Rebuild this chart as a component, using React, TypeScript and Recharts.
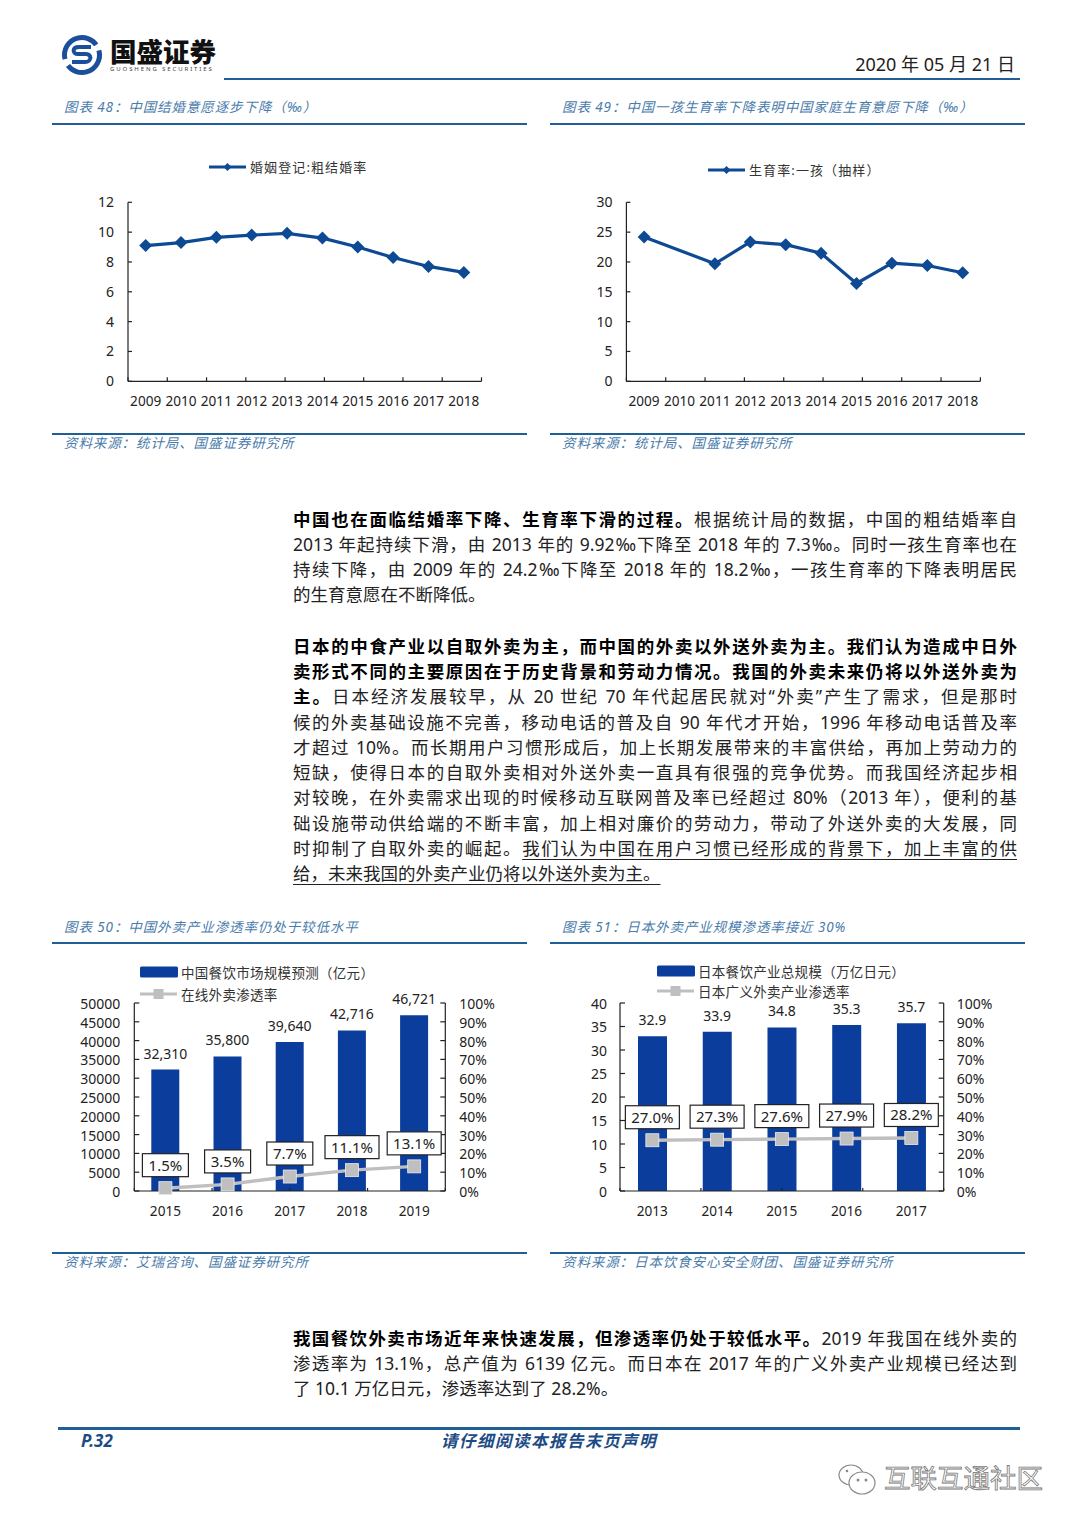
import React from "react";
import { LineChart, ComposedChart, Line, Bar, XAxis, YAxis, Legend, LabelList } from "recharts";

const FONT = '"Noto Sans","Noto Sans CJK SC",sans-serif';
const BLUE_LINE = "#0E4A94";
const BLUE_BAR = "#0B3D9C";
const GREY = "#BFBFBF";
const RULE = "#1F5F96";
const TITLE = "#4A7CAB";

const lineYears = ["2009", "2010", "2011", "2012", "2013", "2014", "2015", "2016", "2017", "2018"];
const marriageRate = [9.1, 9.3, 9.65, 9.8, 9.92, 9.6, 9.0, 8.3, 7.7, 7.3];
const firstChildRate = [24.2, null, 19.7, 23.35, 22.9, 21.45, 16.4, 19.8, 19.4, 18.2];
const marriageTicks = [0, 2, 4, 6, 8, 10, 12];
const birthTicks = [0, 5, 10, 15, 20, 25, 30];

const cnYears = ["2015", "2016", "2017", "2018", "2019"];
const cnMarket = [32310, 35800, 39640, 42716, 46721];
const cnRate = [0.015, 0.035, 0.077, 0.111, 0.131];
const cnTicks = [0, 5000, 10000, 15000, 20000, 25000, 30000, 35000, 40000, 45000, 50000];

const jpYears = ["2013", "2014", "2015", "2016", "2017"];
const jpMarket = [32.9, 33.9, 34.8, 35.3, 35.7];
const jpRate = [0.27, 0.273, 0.276, 0.279, 0.282];
const jpTicks = [0, 5, 10, 15, 20, 25, 30, 35, 40];
const pctTicks = [0, 0.1, 0.2, 0.3, 0.4, 0.5, 0.6, 0.7, 0.8, 0.9, 1];

const toRows = (cats: string[], a: (number | null)[], b?: number[]) =>
  cats.map((c, i) => ({ c, a: a[i], b: b ? b[i] : undefined }));

// full-width punctuation
const par = (s: string) => s.replace(/\(/g, "\uFF08").replace(/\)/g, "\uFF09");
const fw = (s: string) => par(s).replace(/,/g, "\uFF0C").replace(/:/g, "\uFF1A");

type Seg = { t: string; k?: "b" | "u" };
const para1: Seg[][] = [
  [{ t: "中国也在面临结婚率下降、生育率下滑的过程。", k: "b" }, { t: "根据统计局的数据,中国的粗结婚率自" }],
  [{ t: "2013 年起持续下滑,由 2013 年的 9.92‰下降至 2018 年的 7.3‰。同时一孩生育率也在" }],
  [{ t: "持续下降,由 2009 年的 24.2‰下降至 2018 年的 18.2‰,一孩生育率的下降表明居民" }],
  [{ t: "的生育意愿在不断降低。" }],
];
const para1Y = [519, 544, 569, 594];
const para2: Seg[][] = [
  [{ t: "日本的中食产业以自取外卖为主,而中国的外卖以外送外卖为主。我们认为造成中日外", k: "b" }],
  [{ t: "卖形式不同的主要原因在于历史背景和劳动力情况。我国的外卖未来仍将以外送外卖为", k: "b" }],
  [{ t: "主。", k: "b" }, { t: "日本经济发展较早,从 20 世纪 70 年代起居民就对“外卖”产生了需求,但是那时" }],
  [{ t: "候的外卖基础设施不完善,移动电话的普及自 90 年代才开始,1996 年移动电话普及率" }],
  [{ t: "才超过 10%。而长期用户习惯形成后,加上长期发展带来的丰富供给,再加上劳动力的" }],
  [{ t: "短缺,使得日本的自取外卖相对外送外卖一直具有很强的竞争优势。而我国经济起步相" }],
  [{ t: "对较晚,在外卖需求出现的时候移动互联网普及率已经超过 80%(2013 年),便利的基" }],
  [{ t: "础设施带动供给端的不断丰富,加上相对廉价的劳动力,带动了外送外卖的大发展,同" }],
  [{ t: "时抑制了自取外卖的崛起。" }, { t: "我们认为中国在用户习惯已经形成的背景下,加上丰富的供", k: "u" }],
  [{ t: "给,未来我国的外卖产业仍将以外送外卖为主。", k: "u" }],
];
const para2Y = [646, 671, 696, 722, 747, 772, 797, 823, 848, 873];
const para3: Seg[][] = [
  [{ t: "我国餐饮外卖市场近年来快速发展,但渗透率仍处于较低水平。", k: "b" }, { t: "2019 年我国在线外卖的" }],
  [{ t: "渗透率为 13.1%,总产值为 6139 亿元。而日本在 2017 年的广义外卖产业规模已经达到" }],
  [{ t: "了 10.1 万亿日元,渗透率达到了 28.2%。" }],
];
const para3Y = [1338, 1363, 1388];

function Paragraph({ lines, ys }: { lines: Seg[][]; ys: number[] }) {
  return (
    <>
      {lines.map((segs, i) => (
        <div
          key={i}
          style={{
            position: "absolute", left: 293, top: ys[i] - 13, width: 724, height: 26, lineHeight: "26px",
            fontSize: 17.5, color: "#222", whiteSpace: "nowrap",
            textAlign: i === lines.length - 1 ? "left" : "justify",
            textAlignLast: i === lines.length - 1 ? "left" : "justify",
          }}
        >
          {segs.map((s, j) => (
            <span key={j} style={{ fontWeight: s.k === "b" ? 700 : 400, color: s.k === "b" ? "#000" : "#222", textDecoration: s.k === "u" ? "underline" : "none", textUnderlineOffset: 4 }}>{fw(s.t)}</span>
          ))}
        </div>
      ))}
    </>
  );
}

const Hr = ({ x, y, w, h = 2 }: { x: number; y: number; w: number; h?: number }) => (
  <div style={{ position: "absolute", left: x, top: y - h / 2, width: w, height: h, background: RULE }} />
);
const Cap = ({ x, y, text, size = 13.5, sp = 0.9 }: { x: number; y: number; text: string; size?: number; sp?: number }) => (
  <div style={{ position: "absolute", left: x, top: y - 10, height: 20, lineHeight: "20px", fontSize: size, letterSpacing: sp, fontStyle: "italic", color: TITLE, whiteSpace: "nowrap" }}>{fw(text)}</div>
);

const NoTickText = () => <g />;
const Diamond = (r: number) => (p: any) => {
  const { cx, cy, index } = p;
  if (cx == null || cy == null) return <g key={index} />;
  return <polygon key={index} points={`${cx},${cy - r} ${cx + r},${cy} ${cx},${cy + r} ${cx - r},${cy}`} fill={BLUE_LINE} />;
};
const SquareDot = (p: any) => {
  const { cx, cy, index } = p;
  if (cx == null || cy == null) return <g key={index} />;
  return <rect key={index} x={cx - 6.5} y={cy - 6.5} width={13} height={13} fill={GREY} stroke="#E8EEF6" strokeWidth={0.8} />;
};
const BoxLabel = (p: any) => {
  const x = p.x ?? p.viewBox?.x;
  const y = p.y ?? p.viewBox?.y;
  const s = (Number(p.value) * 100).toFixed(1) + "%";
  const wide = s.length > 4;
  const w = wide ? 54 : 46;
  return (
    <g>
      <rect x={x - w / 2} y={y - 34.5} width={w} height={23} fill="#fff" stroke="#222" strokeWidth={1.2} />
      <text x={x} y={y - 17.5} textAnchor="middle" fontSize={15} fill="#222" fontFamily={FONT}>{s}</text>
    </g>
  );
};

const LineLegend = (p: any) => (
  <div style={{ display: "flex", alignItems: "center", fontSize: 13, letterSpacing: 1.1, color: "#333", fontFamily: FONT, whiteSpace: "nowrap" }}>
    <svg width={41} height={12} style={{ flex: "none" }}>
      <line x1={0} x2={37} y1={6} y2={6} stroke={BLUE_LINE} strokeWidth={3.2} />
      <polygon points="18.5,2 22.5,6 18.5,10 14.5,6" fill={BLUE_LINE} />
    </svg>
    {p.payload?.[0]?.value}
  </div>
);
const ComboLegend = (gap: number) => (p: any) => (
  <div style={{ fontSize: 13.5, letterSpacing: 0.3, color: "#333", fontFamily: FONT, whiteSpace: "nowrap" }}>
    {(p.payload || []).map((e: any, i: number) => (
      <div key={i} style={{ display: "flex", alignItems: "center", height: 20, marginBottom: i === 0 ? gap : 0 }}>
        <svg width={41} height={14} style={{ flex: "none" }}>
          {i === 0 ? (
            <rect x={0} y={1.5} width={38} height={11} rx={1.5} fill={BLUE_BAR} />
          ) : (
            <>
              <line x1={0} x2={37} y1={7} y2={7} stroke={GREY} strokeWidth={3} />
              <rect x={13.5} y={2} width={10} height={10} fill={GREY} />
            </>
          )}
        </svg>
        {e.value}
      </div>
    ))}
  </div>
);

const tickStyle = { fontSize: 14, fill: "#222", fontFamily: FONT };
const axisLine = { stroke: "#222", strokeWidth: 1.2 };

function RateChart(props: { left: number; ml: number; mr: number; w: number; data: any[]; ticks: number[]; max: number; name: string; lLeft: number; lTop: number }) {
  const { left, ml, mr, w, data, ticks, max, name, lLeft, lTop } = props;
  return (
    <div style={{ position: "absolute", left, top: 130 }}>
      <LineChart width={w} height={300} data={data} margin={{ top: 72.3, right: mr, bottom: 18.7, left: ml }}>
        <XAxis xAxisId="aEdges" type="number" domain={[0, 10]} ticks={[0, 1, 2, 3, 4, 5, 6, 7, 8, 9, 10]} tick={NoTickText} tickSize={-4} height={1} axisLine={axisLine} tickLine={axisLine} interval={0} />
        <XAxis xAxisId="cat" dataKey="c" scale="band" height={29} tickLine={false} axisLine={false} tick={{ ...tickStyle, fontSize: 13.6 }} tickMargin={8} interval={0} />
        <YAxis width={40} domain={[0, max]} ticks={ticks} tick={tickStyle} tickSize={-4} tickMargin={18} axisLine={axisLine} tickLine={axisLine} interval={0} />
        <Legend layout="vertical" align="center" verticalAlign="middle" itemSorter={null} wrapperStyle={{ left: lLeft, top: lTop, width: 300 }} content={LineLegend} />
        <Line xAxisId="cat" dataKey="a" name={par(name)} stroke={BLUE_LINE} strokeWidth={3.2} connectNulls dot={Diamond(6.5)} activeDot={false} isAnimationActive={false} />
      </LineChart>
    </div>
  );
}

function ComboChart(props: { left: number; ml: number; mr: number; w: number; data: any[]; ticks: number[]; max: number; barW: number; barName: string; lineName: string; fmt: (v: any) => string; lLeft: number; lTop: number; gap: number; tickM: number }) {
  const { left, ml, mr, w, data, ticks, max, barW, barName, lineName, fmt, lLeft, lTop, gap, tickM } = props;
  return (
    <div style={{ position: "absolute", left, top: 950 }}>
      <ComposedChart width={w} height={300} data={data} margin={{ top: 53, right: mr, bottom: 29, left: ml }}>
        <XAxis xAxisId="aEdges" type="number" domain={[0, 5]} ticks={[0, 1, 2, 3, 4, 5]} tick={NoTickText} tickSize={-3} height={1} axisLine={axisLine} tickLine={axisLine} interval={0} />
        <XAxis xAxisId="cat" dataKey="c" height={29} tickLine={false} axisLine={false} tick={{ ...tickStyle, fontSize: 13.6 }} tickMargin={8} interval={0} />
        <YAxis yAxisId="l" width={40} domain={[0, max]} ticks={ticks} tick={{ ...tickStyle, dy: 1 }} tickSize={-5} tickMargin={tickM} axisLine={axisLine} tickLine={axisLine} interval={0} />
        <YAxis yAxisId="r" orientation="right" width={40} domain={[0, 1]} ticks={pctTicks} tickFormatter={(v: number) => Math.round(v * 100) + "%"} tick={{ ...tickStyle, dy: 1 }} tickSize={-5} tickMargin={tickM} axisLine={axisLine} tickLine={axisLine} interval={0} />
        <Legend layout="vertical" align="center" verticalAlign="middle" itemSorter={null} wrapperStyle={{ left: lLeft, top: lTop, width: 330 }} content={ComboLegend(gap)} />
        <Bar xAxisId="cat" yAxisId="l" dataKey="a" name={par(barName)} fill={BLUE_BAR} barSize={barW} isAnimationActive={false}>
          <LabelList dataKey="a" position="top" offset={11} formatter={fmt} style={{ fontSize: 14, fill: "#222", fontFamily: FONT }} />
        </Bar>
        <Line xAxisId="cat" yAxisId="r" dataKey="b" name={lineName} stroke={GREY} strokeWidth={3.4} dot={SquareDot} activeDot={false} isAnimationActive={false}>
          <LabelList dataKey="b" content={BoxLabel} />
        </Line>
      </ComposedChart>
    </div>
  );
}

function Logo() {
  return (
    <svg width={44} height={44} viewBox="0 0 44 44" style={{ position: "absolute", left: 60, top: 33 }}>
      <circle cx={22} cy={22} r={17.5} fill="none" stroke="#1B4F9C" strokeWidth={5} strokeDasharray="48 7 48 7" transform="rotate(-15 22 22)" />
      <path d="M31 14 L19 14 C12 14 12 21 18 21 L26 21 C32 21 32 29 25 29 L12 29" fill="none" stroke="#1B4F9C" strokeWidth={4} />
    </svg>
  );
}

export default function App() {
  return (
    <div style={{ position: "absolute", left: 0, top: 0, width: 1080, height: 1526, background: "#fff", overflow: "hidden", fontFamily: FONT }} lang="zh-CN">
      <Logo />
      <div style={{ position: "absolute", left: 110, top: 39, fontSize: 26.5, lineHeight: "26px", fontWeight: 900, color: "#111", whiteSpace: "nowrap" }}>国盛证券</div>
      <div style={{ position: "absolute", left: 110, top: 66, fontSize: 6, lineHeight: "7px", letterSpacing: 1.9, color: "#444", whiteSpace: "nowrap" }}>GUOSHENG SECURITIES</div>
      <div style={{ position: "absolute", right: 65, top: 51, fontSize: 18, lineHeight: "26px", color: "#222", whiteSpace: "nowrap" }}>2020 年 05 月 21 日</div>
      <Hr x={224} y={79} w={796} h={2.6} />

      <Cap x={64} y={107} text="图表 48:中国结婚意愿逐步下降(‰)" />
      <Hr x={52} y={124} w={475} />
      <Cap x={562} y={107} text="图表 49:中国一孩生育率下降表明中国家庭生育意愿下降(‰)" />
      <Hr x={550} y={124} w={475} />
      <RateChart left={52} ml={36} mr={20} w={449.5} data={toRows(lineYears, marriageRate)} ticks={marriageTicks} max={12} name="婚姻登记:粗结婚率" lLeft={157} lTop={27} />
      <RateChart left={550} ml={36.4} mr={20} w={450.4} data={toRows(lineYears, firstChildRate)} ticks={birthTicks} max={30} name="生育率:一孩(抽样)" lLeft={158} lTop={30} />
      <Hr x={52} y={434} w={475} />
      <Cap x={64} y={443} text="资料来源:统计局、国盛证券研究所" />
      <Hr x={550} y={434} w={475} />
      <Cap x={562} y={443} text="资料来源:统计局、国盛证券研究所" />

      <Paragraph lines={para1} ys={para1Y} />
      <Paragraph lines={para2} ys={para2Y} />

      <Cap x={64} y={927} text="图表 50:中国外卖产业渗透率仍处于较低水平" />
      <Hr x={52} y={943} w={475} />
      <Cap x={562} y={927} text="图表 51:日本外卖产业规模渗透率接近 30%" />
      <Hr x={550} y={943} w={475} />
      <ComboChart left={52} ml={42.3} mr={15} w={448.3} data={toRows(cnYears, cnMarket, cnRate)} ticks={cnTicks} max={50000} barW={28} barName="中国餐饮市场规模预测(亿元)" lineName="在线外卖渗透率" fmt={(v: any) => Number(v).toLocaleString("en-US")} lLeft={88} lTop={12} gap={2} tickM={19} />
      <ComboChart left={550} ml={30} mr={15} w={448.7} data={toRows(jpYears, jpMarket, jpRate)} ticks={jpTicks} max={40} barW={29} barName="日本餐饮产业总规模(万亿日元)" lineName="日本广义外卖产业渗透率" fmt={(v: any) => Number(v).toFixed(1)} lLeft={107} lTop={10.5} gap={0} tickM={18} />
      <Hr x={52} y={1253} w={475} />
      <Cap x={64} y={1262} text="资料来源:艾瑞咨询、国盛证券研究所" />
      <Hr x={550} y={1253} w={475} />
      <Cap x={562} y={1262} text="资料来源:日本饮食安心安全财团、国盛证券研究所" />

      <Paragraph lines={para3} ys={para3Y} />

      <Hr x={58} y={1428} w={962} h={3} />
      <div style={{ position: "absolute", left: 81, top: 1429, fontSize: 17, lineHeight: "24px", fontWeight: 700, fontStyle: "italic", color: "#1C4B86" }}>P.32</div>
      <div style={{ position: "absolute", left: 441, top: 1429, width: 220, fontSize: 16.5, lineHeight: "24px", letterSpacing: 1.5, fontWeight: 700, fontStyle: "italic", color: "#1C4B86", whiteSpace: "nowrap" }}>请仔细阅读本报告末页声明</div>

      <svg width={42} height={34} viewBox="0 0 42 34" style={{ position: "absolute", left: 837, top: 1463 }}>
        <ellipse cx={14} cy={12} rx={12} ry={10} fill="#fff" stroke="#8a8a8a" strokeWidth={1.2} />
        <ellipse cx={25} cy={20} rx={13} ry={11} fill="#fff" stroke="#8a8a8a" strokeWidth={1.2} />
        <circle cx={21} cy={17} r={1.5} fill="#8a8a8a" />
        <circle cx={29} cy={17} r={1.5} fill="#8a8a8a" />
        <circle cx={10} cy={8} r={1.3} fill="#8a8a8a" />
      </svg>
      <div style={{ position: "absolute", left: 884, top: 1461, fontSize: 26.5, lineHeight: "34px", color: "#fff", WebkitTextStroke: "0.8px #777", whiteSpace: "nowrap" }}>互联互通社区</div>
    </div>
  );
}
